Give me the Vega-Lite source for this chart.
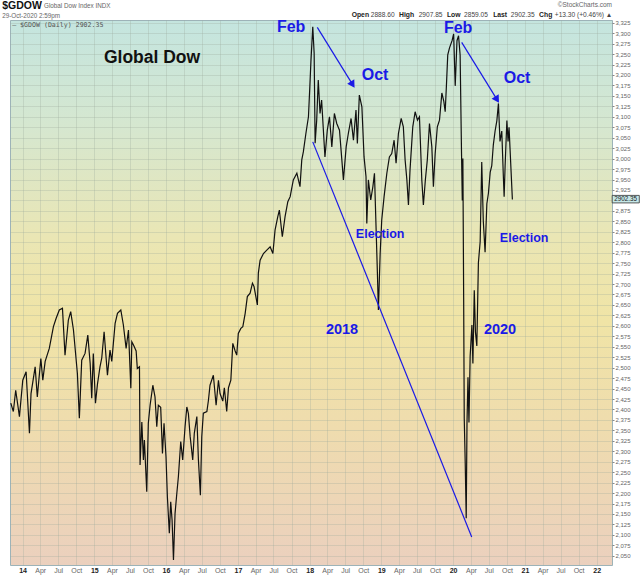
{
  "$schema": "https://vega.github.io/schema/vega-lite/v6.json",
  "width": 602,
  "height": 545,
  "autosize": {"type": "none"},
  "padding": {"left": 10, "top": 20, "right": 28, "bottom": 11},
  "background": "white",
  "view": {
    "fill": {
      "gradient": "linear", "x1": 0, "y1": 0, "x2": 0, "y2": 1,
      "stops": [
        {"offset": 0, "color": "#c4e5df"},
        {"offset": 0.2, "color": "#d6e7cf"},
        {"offset": 0.4, "color": "#eae6b4"},
        {"offset": 0.55, "color": "#f0e4a6"},
        {"offset": 0.75, "color": "#efdcae"},
        {"offset": 1, "color": "#ebd0be"}
      ]
    },
    "stroke": "#9db3b8",
    "strokeWidth": 1
  },
  "config": {"font": "Liberation Sans"},
  "encoding": {
    "x": {
      "field": "d",
      "type": "temporal",
      "scale": {
        "type": "utc",
        "domain": [
          {"year": 2013, "month": 10, "date": 29, "utc": true},
          {"year": 2022, "month": 3, "date": 20, "utc": true}
        ]
      },
      "axis": {
        "title": null,
        "tickCount": {"interval": "month", "step": 3},
        "labelExpr": "utcmonth(datum.value) == 0 ? utcFormat(datum.value, '%y') : utcFormat(datum.value, '%b')",
        "labelFontWeight": {"condition": {"test": "utcmonth(datum.value) == 0", "value": "bold"}, "value": "normal"},
        "labelColor": {"condition": {"test": "utcmonth(datum.value) == 0", "value": "#222222"}, "value": "#666666"},
        "labelFontSize": 7,
        "labelPadding": 1,
        "labelOverlap": false,
        "labelFlush": false,
        "ticks": false,
        "domain": false,
        "grid": true,
        "gridColor": "#9aa89a",
        "gridOpacity": 0.42,
        "gridWidth": 0.7
      }
    },
    "y": {
      "field": "v",
      "type": "quantitative",
      "scale": {"domain": [2028, 3331.5], "nice": false, "zero": false},
      "axis": {
        "title": null,
        "orient": "right",
        "values": [2050, 2075, 2100, 2125, 2150, 2175, 2200, 2225, 2250, 2275, 2300, 2325, 2350, 2375, 2400, 2425, 2450, 2475, 2500, 2525, 2550, 2575, 2600, 2625, 2650, 2675, 2700, 2725, 2750, 2775, 2800, 2825, 2850, 2875, 2900, 2925, 2950, 2975, 3000, 3025, 3050, 3075, 3100, 3125, 3150, 3175, 3200, 3225, 3250, 3275, 3300, 3325],
        "labelExpr": "datum.value == 2900 ? '' : datum.label",
        "labelFontSize": 6,
        "labelColor": "#666666",
        "labelPadding": 1,
        "labelOverlap": false,
        "labelFlush": false,
        "tickSize": 2,
        "tickColor": "#888888",
        "domain": false,
        "grid": true,
        "gridColor": "#9aa89a",
        "gridOpacity": 0.42,
        "gridWidth": 0.7
      }
    }
  },
  "layer": [
    {
      "data": {"values": [
        {"d": "2013-11-02", "v": 2415}, {"d": "2013-11-15", "v": 2395}, {"d": "2013-11-27", "v": 2446}, {"d": "2013-12-16", "v": 2383},
        {"d": "2014-01-02", "v": 2470}, {"d": "2014-01-19", "v": 2490}, {"d": "2014-02-05", "v": 2343}, {"d": "2014-02-13", "v": 2438},
        {"d": "2014-03-06", "v": 2502}, {"d": "2014-03-17", "v": 2430}, {"d": "2014-04-04", "v": 2522}, {"d": "2014-04-14", "v": 2470},
        {"d": "2014-04-26", "v": 2515}, {"d": "2014-05-17", "v": 2546}, {"d": "2014-06-07", "v": 2598}, {"d": "2014-06-21", "v": 2618},
        {"d": "2014-07-07", "v": 2638}, {"d": "2014-07-23", "v": 2642}, {"d": "2014-08-05", "v": 2530}, {"d": "2014-08-22", "v": 2614},
        {"d": "2014-09-03", "v": 2634}, {"d": "2014-09-17", "v": 2590}, {"d": "2014-10-07", "v": 2486}, {"d": "2014-10-17", "v": 2379},
        {"d": "2014-10-29", "v": 2518}, {"d": "2014-11-15", "v": 2534}, {"d": "2014-11-29", "v": 2578}, {"d": "2014-12-11", "v": 2510},
        {"d": "2014-12-19", "v": 2427}, {"d": "2014-12-27", "v": 2534}, {"d": "2015-01-07", "v": 2415}, {"d": "2015-01-17", "v": 2460},
        {"d": "2015-01-30", "v": 2502}, {"d": "2015-02-08", "v": 2523}, {"d": "2015-02-20", "v": 2586}, {"d": "2015-03-09", "v": 2482},
        {"d": "2015-03-22", "v": 2542}, {"d": "2015-03-31", "v": 2515}, {"d": "2015-04-17", "v": 2606}, {"d": "2015-04-29", "v": 2630},
        {"d": "2015-05-16", "v": 2638}, {"d": "2015-05-29", "v": 2602}, {"d": "2015-06-12", "v": 2546}, {"d": "2015-06-24", "v": 2590},
        {"d": "2015-07-06", "v": 2451}, {"d": "2015-07-11", "v": 2562}, {"d": "2015-07-19", "v": 2555}, {"d": "2015-08-02", "v": 2540},
        {"d": "2015-08-08", "v": 2498}, {"d": "2015-08-19", "v": 2502}, {"d": "2015-08-22", "v": 2267}, {"d": "2015-08-31", "v": 2370},
        {"d": "2015-09-08", "v": 2279}, {"d": "2015-09-13", "v": 2327}, {"d": "2015-09-25", "v": 2203}, {"d": "2015-10-03", "v": 2367},
        {"d": "2015-10-12", "v": 2410}, {"d": "2015-10-26", "v": 2458}, {"d": "2015-11-06", "v": 2430}, {"d": "2015-11-15", "v": 2359},
        {"d": "2015-11-23", "v": 2410}, {"d": "2015-12-05", "v": 2405}, {"d": "2015-12-14", "v": 2295}, {"d": "2015-12-22", "v": 2367},
        {"d": "2016-01-01", "v": 2287}, {"d": "2016-01-08", "v": 2191}, {"d": "2016-01-18", "v": 2104}, {"d": "2016-01-25", "v": 2179},
        {"d": "2016-02-01", "v": 2135}, {"d": "2016-02-08", "v": 2040}, {"d": "2016-02-16", "v": 2151}, {"d": "2016-02-25", "v": 2199},
        {"d": "2016-03-04", "v": 2239}, {"d": "2016-03-16", "v": 2323}, {"d": "2016-03-26", "v": 2279}, {"d": "2016-04-07", "v": 2359},
        {"d": "2016-04-16", "v": 2406}, {"d": "2016-04-24", "v": 2390}, {"d": "2016-05-03", "v": 2335}, {"d": "2016-05-16", "v": 2279},
        {"d": "2016-05-24", "v": 2343}, {"d": "2016-06-06", "v": 2383}, {"d": "2016-06-14", "v": 2279}, {"d": "2016-06-24", "v": 2195},
        {"d": "2016-07-01", "v": 2335}, {"d": "2016-07-09", "v": 2391}, {"d": "2016-07-27", "v": 2395}, {"d": "2016-08-04", "v": 2422},
        {"d": "2016-08-12", "v": 2458}, {"d": "2016-08-29", "v": 2482}, {"d": "2016-09-12", "v": 2410}, {"d": "2016-09-24", "v": 2470},
        {"d": "2016-10-02", "v": 2438}, {"d": "2016-10-16", "v": 2420}, {"d": "2016-10-24", "v": 2452}, {"d": "2016-11-05", "v": 2395},
        {"d": "2016-11-14", "v": 2452}, {"d": "2016-11-26", "v": 2470}, {"d": "2016-12-06", "v": 2558}, {"d": "2016-12-18", "v": 2540},
        {"d": "2016-12-26", "v": 2530}, {"d": "2017-01-03", "v": 2582}, {"d": "2017-01-16", "v": 2594}, {"d": "2017-01-26", "v": 2598},
        {"d": "2017-02-07", "v": 2630}, {"d": "2017-02-18", "v": 2670}, {"d": "2017-03-04", "v": 2678}, {"d": "2017-03-16", "v": 2702},
        {"d": "2017-03-24", "v": 2694}, {"d": "2017-04-10", "v": 2650}, {"d": "2017-04-15", "v": 2726}, {"d": "2017-04-24", "v": 2757},
        {"d": "2017-05-11", "v": 2773}, {"d": "2017-05-28", "v": 2781}, {"d": "2017-06-14", "v": 2789}, {"d": "2017-06-28", "v": 2773},
        {"d": "2017-07-09", "v": 2829}, {"d": "2017-07-23", "v": 2861}, {"d": "2017-07-31", "v": 2877}, {"d": "2017-08-15", "v": 2813},
        {"d": "2017-08-29", "v": 2861}, {"d": "2017-09-12", "v": 2897}, {"d": "2017-09-24", "v": 2909}, {"d": "2017-10-10", "v": 2949},
        {"d": "2017-10-28", "v": 2965}, {"d": "2017-11-13", "v": 2933}, {"d": "2017-11-22", "v": 2997}, {"d": "2017-11-30", "v": 3016},
        {"d": "2017-12-13", "v": 3060}, {"d": "2017-12-26", "v": 3100}, {"d": "2018-01-02", "v": 3172}, {"d": "2018-01-08", "v": 3236},
        {"d": "2018-01-17", "v": 3315}, {"d": "2018-01-24", "v": 3252}, {"d": "2018-01-29", "v": 3037}, {"d": "2018-02-06", "v": 3092},
        {"d": "2018-02-14", "v": 3188}, {"d": "2018-02-23", "v": 3108}, {"d": "2018-03-03", "v": 3140}, {"d": "2018-03-12", "v": 3068},
        {"d": "2018-03-20", "v": 3004}, {"d": "2018-04-01", "v": 3068}, {"d": "2018-04-12", "v": 3100}, {"d": "2018-04-24", "v": 3028},
        {"d": "2018-05-07", "v": 3108}, {"d": "2018-05-19", "v": 3084}, {"d": "2018-06-02", "v": 3068}, {"d": "2018-06-14", "v": 2997},
        {"d": "2018-06-22", "v": 2949}, {"d": "2018-07-06", "v": 3028}, {"d": "2018-07-17", "v": 3060}, {"d": "2018-07-31", "v": 3096},
        {"d": "2018-08-12", "v": 3044}, {"d": "2018-08-25", "v": 3116}, {"d": "2018-09-01", "v": 3036}, {"d": "2018-09-11", "v": 3152},
        {"d": "2018-09-24", "v": 3124}, {"d": "2018-10-05", "v": 3004}, {"d": "2018-10-15", "v": 2957}, {"d": "2018-10-19", "v": 2845},
        {"d": "2018-10-27", "v": 2949}, {"d": "2018-11-08", "v": 2901}, {"d": "2018-11-19", "v": 2933}, {"d": "2018-11-27", "v": 2965},
        {"d": "2018-12-04", "v": 2853}, {"d": "2018-12-12", "v": 2726}, {"d": "2018-12-17", "v": 2638}, {"d": "2018-12-26", "v": 2773},
        {"d": "2019-01-03", "v": 2853}, {"d": "2019-01-15", "v": 2909}, {"d": "2019-01-29", "v": 2965}, {"d": "2019-02-11", "v": 3004},
        {"d": "2019-02-23", "v": 3012}, {"d": "2019-03-07", "v": 3044}, {"d": "2019-03-17", "v": 2989}, {"d": "2019-03-29", "v": 3060},
        {"d": "2019-04-12", "v": 3096}, {"d": "2019-04-23", "v": 3076}, {"d": "2019-05-02", "v": 2997}, {"d": "2019-05-11", "v": 2949},
        {"d": "2019-05-19", "v": 2889}, {"d": "2019-05-27", "v": 2973}, {"d": "2019-06-10", "v": 3076}, {"d": "2019-06-22", "v": 3112},
        {"d": "2019-07-04", "v": 3092}, {"d": "2019-07-14", "v": 3100}, {"d": "2019-07-26", "v": 2949}, {"d": "2019-08-03", "v": 2889},
        {"d": "2019-08-13", "v": 2949}, {"d": "2019-08-23", "v": 2997}, {"d": "2019-09-03", "v": 3084}, {"d": "2019-09-15", "v": 3028},
        {"d": "2019-09-23", "v": 2933}, {"d": "2019-10-02", "v": 3012}, {"d": "2019-10-13", "v": 3076}, {"d": "2019-10-24", "v": 3092},
        {"d": "2019-11-05", "v": 3157}, {"d": "2019-11-15", "v": 3137}, {"d": "2019-11-22", "v": 3112}, {"d": "2019-11-28", "v": 3172},
        {"d": "2019-12-05", "v": 3248}, {"d": "2019-12-14", "v": 3265}, {"d": "2019-12-27", "v": 3282}, {"d": "2020-01-04", "v": 3298},
        {"d": "2020-01-12", "v": 3174}, {"d": "2020-01-21", "v": 3282}, {"d": "2020-01-29", "v": 3294}, {"d": "2020-02-06", "v": 3248},
        {"d": "2020-02-13", "v": 3016}, {"d": "2020-02-17", "v": 2900}, {"d": "2020-02-20", "v": 3000}, {"d": "2020-02-24", "v": 2668},
        {"d": "2020-02-27", "v": 2378}, {"d": "2020-03-03", "v": 2270}, {"d": "2020-03-08", "v": 2140}, {"d": "2020-03-12", "v": 2369},
        {"d": "2020-03-17", "v": 2477}, {"d": "2020-03-22", "v": 2369}, {"d": "2020-03-28", "v": 2527}, {"d": "2020-04-06", "v": 2602},
        {"d": "2020-04-11", "v": 2510}, {"d": "2020-04-18", "v": 2685}, {"d": "2020-04-24", "v": 2585}, {"d": "2020-05-01", "v": 2552},
        {"d": "2020-05-09", "v": 2751}, {"d": "2020-05-18", "v": 2801}, {"d": "2020-05-26", "v": 2992}, {"d": "2020-06-03", "v": 2850},
        {"d": "2020-06-12", "v": 2776}, {"d": "2020-06-21", "v": 2892}, {"d": "2020-06-29", "v": 2917}, {"d": "2020-07-08", "v": 2967},
        {"d": "2020-07-16", "v": 2983}, {"d": "2020-07-24", "v": 3033}, {"d": "2020-08-02", "v": 3066}, {"d": "2020-08-11", "v": 3091},
        {"d": "2020-08-19", "v": 3132}, {"d": "2020-08-27", "v": 3041}, {"d": "2020-09-05", "v": 3066}, {"d": "2020-09-13", "v": 2958},
        {"d": "2020-09-17", "v": 2909}, {"d": "2020-09-22", "v": 2983}, {"d": "2020-10-01", "v": 3091}, {"d": "2020-10-07", "v": 3041},
        {"d": "2020-10-12", "v": 3075}, {"d": "2020-10-29", "v": 2902}
      ]},
      "mark": {"type": "line", "color": "#111111", "strokeWidth": 1.2, "clip": true}
    },
    {
      "data": {"values": [
        {"d": "2018-02-09", "v": 3314, "d2": "2018-08-12", "v2": 3174},
        {"d": "2020-02-14", "v": 3278, "d2": "2020-08-16", "v2": 3138},
        {"d": "2018-01-17", "v": 3040, "d2": "2020-04-05", "v2": 2095}
      ]},
      "mark": {"type": "rule", "color": "#1a1ae6", "strokeWidth": 1.2},
      "encoding": {"x2": {"field": "d2"}, "y2": {"field": "v2"}}
    },
    {
      "data": {"values": [
        {"d": "2018-08-08", "v": 3177},
        {"d": "2020-08-12", "v": 3141}
      ]},
      "mark": {"type": "point", "shape": "triangle-down", "filled": true, "color": "#1a1ae6", "opacity": 1, "size": 70, "angle": 328}
    },
    {
      "data": {"values": [
        {"d": "2017-09-29", "v": 3315, "t": "Feb"},
        {"d": "2020-01-27", "v": 3312, "t": "Feb"},
        {"d": "2018-11-30", "v": 3200, "t": "Oct"},
        {"d": "2020-11-22", "v": 3193, "t": "Oct"}
      ]},
      "mark": {"type": "text", "color": "#1a1ae6", "fontSize": 16, "fontWeight": "bold", "baseline": "middle", "align": "center"},
      "encoding": {"text": {"field": "t"}}
    },
    {
      "data": {"values": [
        {"d": "2018-12-26", "v": 2820, "t": "Election"},
        {"d": "2020-12-28", "v": 2810, "t": "Election"}
      ]},
      "mark": {"type": "text", "color": "#1a1ae6", "fontSize": 12.5, "fontWeight": "bold", "baseline": "middle", "align": "center"},
      "encoding": {"text": {"field": "t"}}
    },
    {
      "data": {"values": [
        {"d": "2018-06-15", "v": 2590, "t": "2018"},
        {"d": "2020-08-27", "v": 2590, "t": "2020"}
      ]},
      "mark": {"type": "text", "color": "#1a1ae6", "fontSize": 14.5, "fontWeight": "bold", "baseline": "middle", "align": "center"},
      "encoding": {"text": {"field": "t"}}
    },
    {
      "data": {"values": [{"d": "2015-10-22", "v": 3241, "t": "Global Dow"}]},
      "mark": {"type": "text", "color": "#111111", "fontSize": 17.5, "fontWeight": "bold", "baseline": "middle", "align": "center"},
      "encoding": {"text": {"field": "t"}}
    },
    {
      "data": {"values": [{"d": "2013-11-09", "v": 3320, "t": "— $GDOW (Daily) 2902.35"}]},
      "mark": {"type": "text", "font": "DejaVu Sans Mono", "color": "#555555", "fontSize": 6.6, "baseline": "middle", "align": "left"},
      "encoding": {"text": {"field": "t"}}
    },
    {
      "data": {"values": [{"d": "2013-09-19", "v": 3365, "t": "$GDOW"}]},
      "mark": {"type": "text", "color": "#111111", "fontSize": 10.5, "fontWeight": "bold", "baseline": "middle", "align": "left"},
      "encoding": {"text": {"field": "t"}}
    },
    {
      "data": {"values": [
        {"d": "2014-04-20", "v": 3365, "t": "Global Dow Index  INDX"},
        {"d": "2013-09-19", "v": 3342, "t": "29-Oct-2020 2:59pm"}
      ]},
      "mark": {"type": "text", "color": "#666666", "fontSize": 6.3, "baseline": "middle", "align": "left"},
      "encoding": {"text": {"field": "t"}}
    },
    {
      "data": {"values": [{"d": "2022-03-20", "v": 3368, "t": "©StockCharts.com"}]},
      "mark": {"type": "text", "color": "#666666", "fontSize": 6.5, "baseline": "middle", "align": "right"},
      "encoding": {"text": {"field": "t"}}
    },
    {
      "data": {"values": [
        {"d": "2018-08-03", "v": 3343, "t": "Open"},
        {"d": "2019-04-01", "v": 3343, "t": "High"},
        {"d": "2019-12-01", "v": 3343, "t": "Low"},
        {"d": "2020-07-23", "v": 3343, "t": "Last"},
        {"d": "2021-03-14", "v": 3343, "t": "Chg"}
      ]},
      "mark": {"type": "text", "color": "#222222", "fontSize": 6.8, "fontWeight": "bold", "baseline": "middle", "align": "left"},
      "encoding": {"text": {"field": "t"}}
    },
    {
      "data": {"values": [
        {"d": "2018-11-08", "v": 3343, "t": "2888.60"},
        {"d": "2019-07-10", "v": 3343, "t": "2907.85"},
        {"d": "2020-02-26", "v": 3343, "t": "2859.05"},
        {"d": "2020-10-21", "v": 3343, "t": "2902.35"},
        {"d": "2021-06-02", "v": 3343, "t": "+13.30 (+0.46%) ▲"}
      ]},
      "mark": {"type": "text", "color": "#444444", "fontSize": 6.6, "baseline": "middle", "align": "left"},
      "encoding": {"text": {"field": "t"}}
    },
    {
      "data": {"values": [{"d": "2022-03-21", "d2": "2022-08-06", "v": 2894, "v2": 2912}]},
      "mark": {"type": "rect", "fill": "#c6e8e8", "stroke": "#333333", "strokeWidth": 0.8},
      "encoding": {"x2": {"field": "d2"}, "y2": {"field": "v2"}}
    },
    {
      "data": {"values": [{"d": "2022-05-28", "v": 2903, "t": "2902.35"}]},
      "mark": {"type": "text", "color": "#222222", "fontSize": 6.3, "baseline": "middle", "align": "center"},
      "encoding": {"text": {"field": "t"}}
    }
  ]
}
